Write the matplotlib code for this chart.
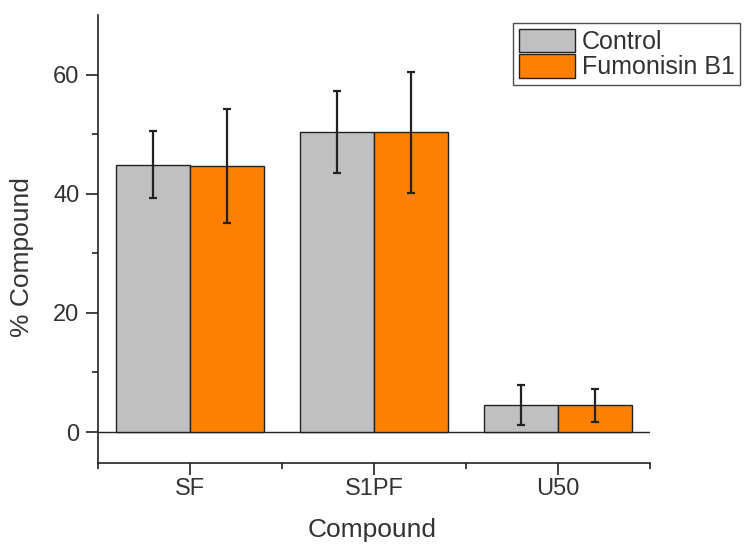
import matplotlib
matplotlib.use("Agg")
import matplotlib.pyplot as plt
import numpy as np
from matplotlib.ticker import FixedLocator

plt.rcParams['font.family'] = ['Liberation Sans', 'DejaVu Sans']

categories = ["SF", "S1PF", "U50"]
control = [44.9, 50.3, 4.5]
control_err = [5.7, 6.9, 3.35]
fumonisin = [44.6, 50.3, 4.5]
fumonisin_err = [9.55, 10.1, 2.75]
series_names = ["Control", "Fumonisin B1"]
y_ticks = [0, 20, 40, 60]

fig = plt.figure(figsize=(7.46, 5.46), dpi=100)
ax = fig.add_axes([98/746, 1-463/546, (650-98)/746, (463-15)/546])

x = np.arange(len(categories))
w = 0.4
txt = '#333333'
ink = '#222222'
b1 = ax.bar(x - w/2, control, w, color='#C0C0C0', edgecolor=ink, linewidth=1.0, label=series_names[0], zorder=2)
b2 = ax.bar(x + w/2, fumonisin, w, color='#FF8000', edgecolor=ink, linewidth=1.0, label=series_names[1], zorder=2)
ax.errorbar(x - w/2, control, yerr=control_err, fmt='none', ecolor=ink, elinewidth=1.6, capsize=3, capthick=1.6, zorder=3)
ax.errorbar(x + w/2, fumonisin, yerr=fumonisin_err, fmt='none', ecolor=ink, elinewidth=1.6, capsize=3, capthick=1.6, zorder=3)
ax.axhline(0, color=ink, lw=1.0, zorder=1)

ax.set_xlim(-0.5, 2.5)
ax.set_ylim(-5.2, 70)
ax.set_xticks(x)
ax.set_xticklabels(categories)
ax.xaxis.set_minor_locator(FixedLocator([-0.5, 0.5, 1.5, 2.5]))
ax.set_yticks(y_ticks)
ax.yaxis.set_minor_locator(FixedLocator([10, 30, 50]))

for s in ['top', 'right']:
    ax.spines[s].set_visible(False)
for s in ['left', 'bottom']:
    ax.spines[s].set_linewidth(1.2)
    ax.spines[s].set_color(ink)

ax.tick_params(axis='both', which='major', direction='out', length=8.5, width=1.2, color=ink, labelsize=17, labelcolor=txt)
ax.tick_params(axis='y', which='major', pad=5)
ax.tick_params(axis='x', which='major', pad=2)
ax.tick_params(axis='both', which='minor', direction='out', length=4, width=1.2, color=ink)

ax.set_ylabel("% Compound", fontsize=19, color=txt)
ax.set_xlabel("Compound", fontsize=19, color=txt)
ax.xaxis.label.set_va('center')
ax.yaxis.label.set_va('center')
ax.yaxis.set_label_coords(-0.138, 0.46)
ax.xaxis.set_label_coords(0.497, -0.15)

leg = fig.legend(handles=[b1, b2], loc='upper left', bbox_to_anchor=(513/746, 1-23/546),
                 fontsize=18, frameon=True, fancybox=False, edgecolor=ink,
                 handlelength=2.24, handleheight=1.08, handletextpad=0.3, borderpad=0.22,
                 labelspacing=0.0, borderaxespad=0)
leg.get_frame().set_linewidth(1.0)
for t in leg.get_texts():
    t.set_color(txt)

fig.savefig("out.png", dpi=100)
